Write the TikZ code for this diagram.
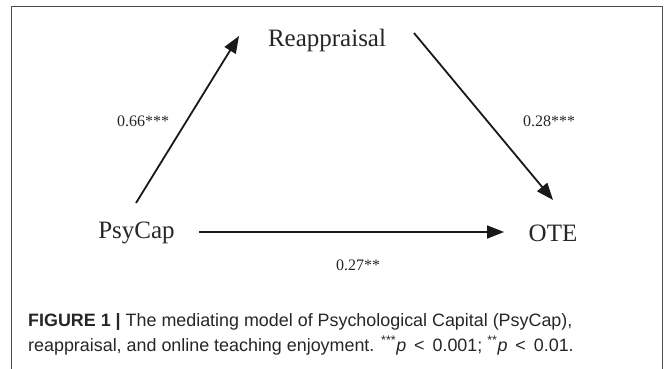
\documentclass[tikz,border=0pt]{standalone}
\usepackage{fontspec}
\setmainfont{Liberation Serif}
\newfontfamily\capfont{Liberation Sans}
\usetikzlibrary{arrows.meta}
\begin{document}
\begin{tikzpicture}[x=1pt,y=-1pt,
  var/.style={font=\fontsize{25}{28}\selectfont, inner sep=0pt, text=black!85},
  coef/.style={font=\fontsize{16}{18}\selectfont, inner sep=0pt, text=black!85},
  path/.style={line width=1.8pt, draw=black!90, -{Triangle[length=17pt,width=13pt]}},
  frame/.style={draw=black!70, line width=1pt}]
\useasboundingbox (0,0) rectangle (671,368);
\draw[frame] (11.6,375) -- (11.6,6.7) -- (662,6.7) -- (662,375);
\node[var] (re) at (327,40) {Reappraisal};
\node[var] (ps) at (136.5,233) {PsyCap};
\node[var] (ote) at (553,233) {OTE};
\coordinate (s1) at (136,203);
\coordinate (e1) at (239,36);
\coordinate (s2) at (414,33);
\coordinate (e2) at (553,200);
\coordinate (s3) at (199,232);
\coordinate (e3) at (504,232);
\draw[path] (s1) -- (e1);
\draw[path] (s2) -- (e2);
\draw[path] (s3) -- (e3);
\node[coef] (c1) at (143,121) {0.66***};
\node[coef] (c2) at (549,121) {0.28***};
\node[coef] (c3) at (358,265) {0.27**};
\node[anchor=west, inner sep=0pt, align=left, text=black!85,
  font=\capfont\fontsize{17.9}{25}\selectfont] (cap) at (28,334)
  {\textbf{FIGURE 1 |} The mediating model of Psychological Capital (PsyCap),\\
   reappraisal, and online teaching enjoyment. \textsuperscript{***}\textit{p} \,<\, 0.001; \textsuperscript{**}\textit{p} \,<\, 0.01.};
\end{tikzpicture}
\end{document}
